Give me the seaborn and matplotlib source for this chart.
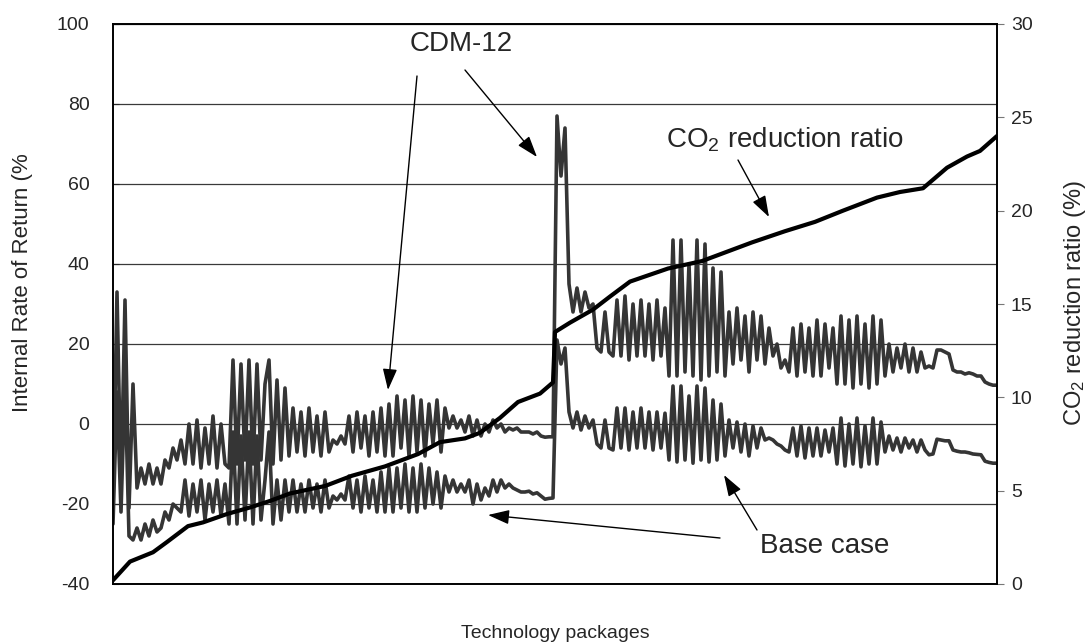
import numpy as np
import pandas as pd
import matplotlib
matplotlib.use("Agg")
import matplotlib.pyplot as plt
import seaborn as sns

# IRR (%) of each technology package (left axis)
cdm12_irr = [
    -20, 33, -16, 31, -21, 10,
    -16, -11, -15, -10, -15, -11, -15, -9, -11, -6, -9,
    -4, -10, 0, -10, 1, -11, -1, -10, 2, -11, 0, -10,
    -11, 16, -10, 15, -9, 16, -10, 15, -9, 10, 16, -10, 11, -9, 9, -8,
    4, -7, 3, -8, 4, -7, 2, -8, 3, -7,
    -4, -5, -3, -5,
    2, -7, 3, -6, 2, -8, 3, -7, 4, -8, 5,
    -8, 7, -6, 6, -8, 7, -7, 6, -8, 5, -5, 6, -7, 4,
    -1, 2, -1, 1, -2,
    2, -3, 1, -3, 0,
    -2, 1, -1, 0, -2, -1,
    -1.5, -1, -2, -2, -2, -2.5, -2, -3,
    -3.3, -3.2, -3.2,
    77, 62, 74,
    35, 28, 34, 28, 33, 29, 30,
    19, 18, 28, 18, 17,
    31, 17, 32, 16, 30, 17,
    31, 17, 30, 16, 31, 17, 29,
    12, 46, 12, 46, 13, 40, 12, 46, 11, 45, 12, 39, 13, 38, 12,
    28, 15, 29, 16, 27, 13, 28, 16, 27, 15,
    24, 17, 20,
    14, 16, 13,
    24, 12, 25, 13, 24, 12,
    26, 12, 25, 14, 24,
    10, 27, 10, 26, 9, 27, 10, 25, 9, 27, 10, 26, 12,
    20, 13, 19, 14, 20, 13, 19, 13, 18, 14,
    14.5, 14,
    18.5, 18.5, 18, 17.5,
    13.5, 13, 13, 12.5, 12.8, 12.5, 12, 12,
    10.5, 10, 9.7, 9.7,
]

base_irr = [
    -25, 8, -22, 11, -28,
    -29, -26, -29, -25, -28, -24, -27,
    -26, -22, -24, -20, -21,
    -22, -14, -23, -15, -22, -14, -24, -15, -22, -14, -23, -15,
    -25, -2, -25, -3, -24, -2, -25, -3, -24, -14, -2, -25, -14, -24, -14, -22,
    -14, -22, -15, -22, -14, -21, -15, -22, -14, -21,
    -18, -19, -17.5, -19,
    -13, -21, -14, -22, -13, -21, -14, -22, -12, -22, -11,
    -22, -11, -21, -10, -22, -11, -22, -10, -21, -11, -20, -12, -21, -13,
    -17, -14, -17, -15, -17,
    -14, -20, -15, -19, -16,
    -18, -14, -17, -14, -16, -15,
    -16, -16.5, -17, -17, -16.8, -17.5, -17.2, -18,
    -18.8, -18.6, -18.5,
    21, 15, 19,
    3, -1, 3, -1.5, 2, -1, 1,
    -5, -6, 1, -6, -6.5,
    4, -6, 4, -6.5, 3, -6,
    4, -6, 3, -6.5, 3, -6, 2.7,
    -9, 9.5, -9.5, 9.5, -9, 7, -9.8, 9.5, -9, 9, -9.5, 6, -9, 5, -8,
    1, -6, 0.5, -7, 0, -8, -0.5, -6, -1, -4,
    -3.5, -4, -5, -5.5, -6.5, -7,
    -1, -8, -0.5, -8.5, -1, -8,
    -1, -8, -1.5, -7, -1,
    -10, 1.5, -10.5, 0, -10, 1.5, -10.7, -0.5, -10, 1.5, -10, 0.5, -7,
    -3, -6.5, -3.5, -7, -3.5, -6, -4, -7, -4, -6.5,
    -7.7, -7.5,
    -3.8, -4, -4.2, -4.2,
    -6.5, -6.8, -7, -7, -7.2, -7.5, -7.6, -7.7,
    -9.3, -9.6, -9.8, -9.8,
]

# CO2 reduction ratio (%) (right axis), at package positions
co2_pos = [0, 4.25, 10, 13.5, 18.75, 22.5, 28.5, 34.25, 39.25, 44.25, 53, 59.75,
           68, 76.25, 81.75, 88, 91.75, 96.75, 101.25, 106.75, 110, 110.5,
           114.25, 120, 124.25, 129.25, 138.75, 147.25, 152.25, 159.75, 168,
           175.5, 182.5, 191, 196.75, 202.5, 208.5, 213.5, 216.75, 221]
co2_vals = [0.2, 1.2, 1.7, 2.25, 3.1, 3.3, 3.75, 4.1, 4.45, 4.85, 5.25, 5.8,
            6.3, 6.96, 7.6, 7.8, 8.1, 8.9, 9.75, 10.2, 10.8, 13.5,
            14.0, 14.7, 15.4, 16.2, 16.9, 17.3, 17.7, 18.3, 18.9,
            19.4, 20.0, 20.7, 21.0, 21.2, 22.3, 22.9, 23.2, 24.0]

irr = pd.DataFrame({
    "package": np.arange(len(cdm12_irr)),
    "CDM-12": cdm12_irr,
    "Base case": base_irr,
})
co2 = pd.DataFrame({"package": co2_pos, "co2": co2_vals})

sns.set_style("white")
plt.rcParams["font.family"] = ["Liberation Sans", "DejaVu Sans"]
plt.rcParams["mathtext.default"] = "regular"
plt.rcParams["axes.unicode_minus"] = False

fig, ax = plt.subplots(figsize=(10.92, 6.43), dpi=100)
fig.subplots_adjust(left=113 / 1092, right=997 / 1092, bottom=1 - 584 / 643, top=1 - 24 / 643)

line_col = "#353535"
for name in ["CDM-12", "Base case"]:
    sns.lineplot(data=irr, x="package", y=name, ax=ax, color=line_col, lw=2.6,
                 estimator=None)

ax.set_xlim(0, len(cdm12_irr) - 1)
ax.set_ylim(-40, 100)
ax.set_yticks(range(-40, 101, 20))
ax.set_xticks([])
ax.yaxis.grid(True, color="#3a3a3a", lw=0.9)
ax.set_axisbelow(True)
ax.tick_params(axis="y", direction="in", length=4, labelsize=14, pad=17)
for sp in ax.spines.values():
    sp.set_color("black")
    sp.set_linewidth(1.2)

ax.set_xlabel("Technology packages", fontsize=14)
ax.xaxis.set_label_coords(0.5, -0.073)
ax.set_ylabel("Internal Rate of Return (%", fontsize=16)
ax.yaxis.set_label_coords(-0.091, 0.5375)

ax2 = ax.twinx()
sns.lineplot(data=co2, x="package", y="co2", ax=ax2, color="black", lw=3.0, estimator=None)
ax2.set_ylim(0, 30)
ax2.set_yticks(range(0, 31, 5))
ax2.tick_params(axis="y", direction="out", length=5, color="#777777", labelsize=14, pad=5)
ax2.set_ylabel("CO$_2$ reduction ratio (%)", fontsize=17)
ax2.yaxis.set_label_coords(1.073, 0.502)
ax2.set_xlim(0, len(cdm12_irr) - 1)
for sp in ax2.spines.values():
    sp.set_color("black")
    sp.set_linewidth(1.2)

arrow = dict(arrowstyle="-|>,head_length=0.65,head_width=0.22", color="black", lw=1.0,
             mutation_scale=20, shrinkA=0, shrinkB=0)
ax.text(87, 95, "CDM-12", fontsize=20, ha="center", va="center")
ax.annotate("", xy=(68.75, 8.5), xytext=(76, 87), arrowprops=arrow)
ax.annotate("", xy=(106, 66.75), xytext=(88, 88.5), arrowprops=arrow)

ax.text(168, 71, "CO$_2$ reduction ratio", fontsize=20, ha="center", va="center")
ax.annotate("", xy=(164, 51.75), xytext=(156.25, 66), arrowprops=arrow)

ax.text(178, -30.5, "Base case", fontsize=20, ha="center", va="center")
ax.annotate("", xy=(152.75, -12.75), xytext=(161, -26.5), arrowprops=arrow)
ax.annotate("", xy=(93.75, -22.75), xytext=(151.75, -28.5), arrowprops=arrow)

fig.savefig("out.png", dpi=100)
